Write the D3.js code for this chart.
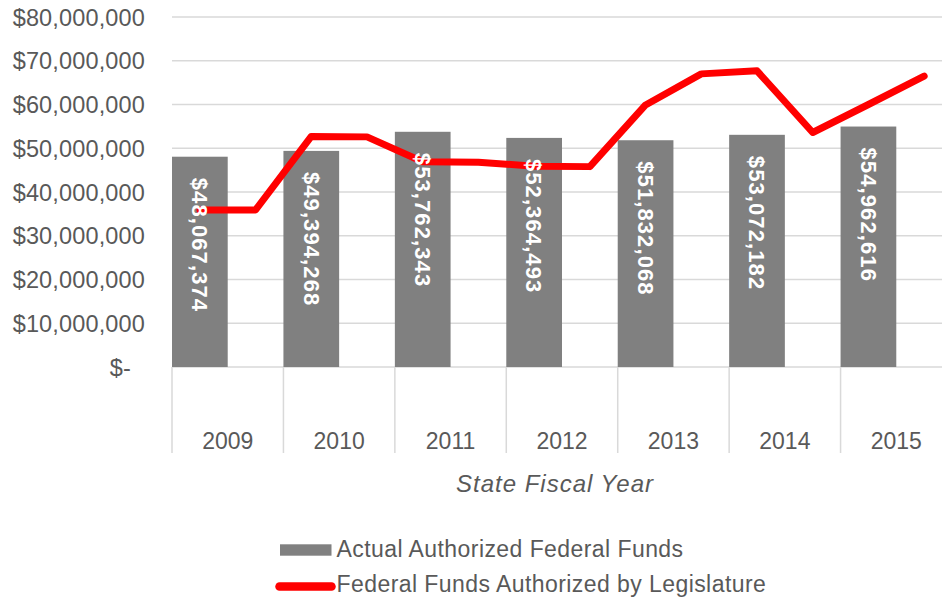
<!DOCTYPE html>
<html>
<head>
<meta charset="utf-8">
<script src="https://cdn.jsdelivr.net/npm/d3@7"></script>
<style>
  html, body { margin: 0; padding: 0; background: #fff; }
  svg { display: block; font-family: "Liberation Sans", Arial, sans-serif; }
</style>
</head>
<body>
<svg id="chart" width="942" height="600"></svg>
<script>
// ---- data ----
const years = ["2009", "2010", "2011", "2012", "2013", "2014", "2015"];
const actualFunds = [48067374, 49394268, 53762343, 52364493, 51832068, 53072182, 54962616];
// legislature authorization: two points per fiscal year
const linePeriods = ["2009a","2009b","2010a","2010b","2011a","2011b","2012a","2012b","2013a","2013b","2014a","2014b","2015a","2015b"];
const legislatureFunds = [35900000, 35900000, 52700000, 52600000, 46900000, 46800000, 45900000, 45800000, 59900000, 67000000, 67700000, 53600000, 60000000, 66500000];
const yTicks = [0, 10000000, 20000000, 30000000, 40000000, 50000000, 60000000, 70000000, 80000000];
const yTickLabels = ["$-", "$10,000,000", "$20,000,000", "$30,000,000", "$40,000,000", "$50,000,000", "$60,000,000", "$70,000,000", "$80,000,000"];
const seriesNames = ["Actual Authorized Federal Funds", "Federal Funds Authorized by Legislature"];
const axisTitle = "State Fiscal Year";

// ---- layout ----
const svg = d3.select("#chart");
const plotLeft = 172, plotRight = 952, plotTop = 17, plotBottom = 367;
const textColor = "#595959", gridColor = "#d9d9d9";

const x = d3.scaleBand().domain(years).range([plotLeft, plotRight]).padding(0);
const xl = d3.scaleBand().domain(linePeriods).range([plotLeft, plotRight]).padding(0);
const y = d3.scaleLinear().domain([0, 80000000]).range([plotBottom, plotTop]);

// gridlines
svg.append("g").selectAll("line").data(yTicks).join("line")
  .attr("x1", plotLeft).attr("x2", plotRight)
  .attr("y1", d => y(d)).attr("y2", d => y(d))
  .attr("stroke", gridColor).attr("stroke-width", 1.5);

// y labels
svg.append("g").selectAll("text").data(yTicks).join("text")
  .attr("x", (d, i) => i === 0 ? 131 : 145)
  .attr("y", d => y(d) + 8.5)
  .attr("text-anchor", "end")
  .attr("fill", textColor)
  .attr("font-size", 23.5)
  .attr("letter-spacing", 0.15)
  .text((d, i) => yTickLabels[i]);

// category separators
const seps = years.map(yr => x(yr));
svg.append("g").selectAll("line").data(seps).join("line")
  .attr("x1", d => d).attr("x2", d => d)
  .attr("y1", plotBottom).attr("y2", 453)
  .attr("stroke", gridColor).attr("stroke-width", 1.5);

// x labels
svg.append("g").selectAll("text").data(years).join("text")
  .attr("x", d => x(d) + x.bandwidth() / 2)
  .attr("y", 448.5)
  .attr("text-anchor", "middle")
  .attr("fill", textColor)
  .attr("font-size", 23)
  .text(d => d);

// bars (left half of each band)
svg.append("g").selectAll("rect").data(years).join("rect")
  .attr("x", d => x(d))
  .attr("width", x.bandwidth() / 2)
  .attr("y", (d, i) => y(actualFunds[i]))
  .attr("height", (d, i) => y(0) - y(actualFunds[i]))
  .attr("fill", "#808080");

// line
const line = d3.line()
  .x((d, i) => xl(linePeriods[i]) + xl.bandwidth() / 2)
  .y(d => y(d));
svg.append("path")
  .datum(legislatureFunds)
  .attr("d", line)
  .attr("fill", "none")
  .attr("stroke", "#ff0000")
  .attr("stroke-width", 7)
  .attr("stroke-linecap", "round")
  .attr("stroke-linejoin", "round");

// bar value labels
const fmt = d3.format("$,");
svg.append("g").selectAll("text").data(years).join("text")
  .attr("transform", (d, i) => `translate(${x(d) + x.bandwidth() / 4 - 7.7},${y(actualFunds[i]) + 21}) rotate(90)`)
  .attr("text-anchor", "start")
  .attr("fill", "#ffffff")
  .attr("font-weight", "bold")
  .attr("font-size", 22)
  .attr("letter-spacing", 1.1)
  .text((d, i) => fmt(actualFunds[i]));

// axis title
svg.append("text")
  .attr("x", 555).attr("y", 492.3)
  .attr("text-anchor", "middle")
  .attr("font-style", "italic")
  .attr("font-size", 24)
  .attr("letter-spacing", 1.0)
  .attr("fill", textColor)
  .text(axisTitle);

// legend
svg.append("rect").attr("x", 280).attr("y", 544.3).attr("width", 51.5).attr("height", 11.4).attr("fill", "#808080");
svg.append("line").attr("x1", 279.5).attr("x2", 331.5).attr("y1", 586.5).attr("y2", 586.5)
  .attr("stroke", "#ff0000").attr("stroke-width", 8.5).attr("stroke-linecap", "round");
svg.append("g").selectAll("text").data(seriesNames).join("text")
  .attr("x", 336.5)
  .attr("y", (d, i) => i === 0 ? 556.7 : 592.3)
  .attr("font-size", 23)
  .attr("letter-spacing", 0.43)
  .attr("fill", textColor)
  .text(d => d);
</script>
</body>
</html>
